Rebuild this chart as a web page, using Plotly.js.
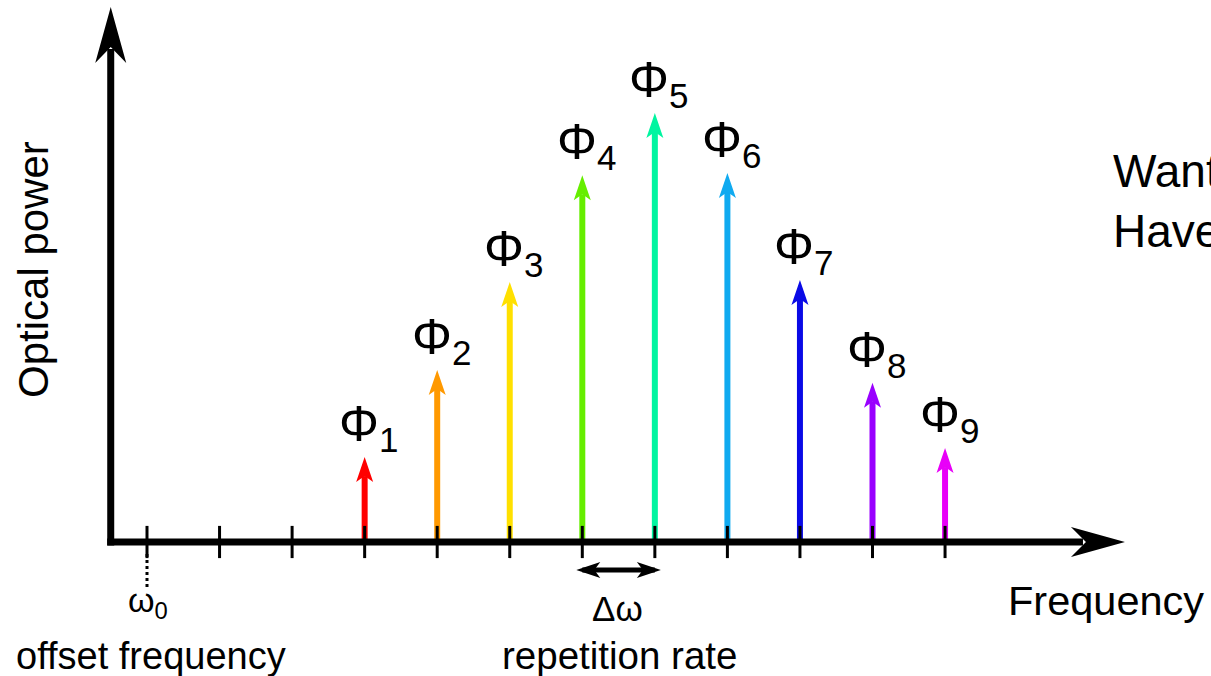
<!DOCTYPE html>
<html>
<head>
<meta charset="utf-8">
<script src="https://cdn.plot.ly/plotly-3.0.1.min.js"></script>
<style>html,body{margin:0;padding:0;background:#fff;}#chart{width:1211px;height:676px;}</style>
</head>
<body>
<div id="chart"></div>
<script>
// ---- data ----
const modeIndex = [3, 4, 5, 6, 7, 8, 9, 10, 11];           // comb line position in units of Δω from ω0
const modeLabels = ['1', '2', '3', '4', '5', '6', '7', '8', '9'];
const opticalPower = [0.198, 0.401, 0.606, 0.855, 1.0, 0.860, 0.611, 0.371, 0.219];
const modeColors = ['#ff0000', '#ff9900', '#ffe000', '#66ee00', '#00f5a0', '#10aaf0', '#0a0ae6', '#9900ff', '#e800f8'];
const tickIndex = [0, 1, 2, 3, 4, 5, 6, 7, 8, 9, 10, 11];
const offsetIndex = 0;
const repetitionPair = [6, 7];
const axisTitles = {x: 'Frequency', y: 'Optical power'};
const sideText = 'Want<br>Have';

// ---- layout constants ----
const W = 1211, H = 676;
const FONT = 'Liberation Sans, Arial, sans-serif';
const xRange = [-2.0262, 14.6658];
const yRange = [-0.31235, 1.26340];
const dx = px => px * (xRange[1] - xRange[0]) / W;
const dy = px => px * (yRange[1] - yRange[0]) / H;
const xp = px => px / W;
const yp = py => 1 - py / H;
const originX = -0.5;            // position of the vertical axis
const xTip = 13.48, yTip = 1.247;

const traces = [];
const shapes = [];
const annotations = [];

// comb lines (shafts) and heads
modeIndex.forEach((k, i) => {
  const p = opticalPower[i];
  traces.push({
    x: [k, k], y: [0, p - dy(19)], mode: 'lines', type: 'scatter',
    line: {color: modeColors[i], width: 6}, hoverinfo: 'skip', showlegend: false
  });
  shapes.push({
    type: 'path', xref: 'x', yref: 'y', xsizemode: 'pixel', ysizemode: 'pixel',
    xanchor: k, yanchor: p, path: 'M0,0 L8.5,-25 L0,-19 L-8.5,-25 Z',
    fillcolor: modeColors[i], line: {width: 0}, layer: 'above'
  });
  annotations.push({
    x: k, y: p, xref: 'x', yref: 'y', showarrow: false,
    xanchor: 'center', yanchor: 'bottom', xshift: 4, yshift: -4,
    text: 'Φ<sub>' + modeLabels[i] + '</sub>',
    font: {family: FONT, size: 50, color: '#000'}
  });
});

// axes
shapes.push({type: 'line', xref: 'x', yref: 'y', x0: originX, x1: originX, y0: -dy(3.5), y1: yTip - dy(42),
  line: {color: '#000', width: 7}});
shapes.push({type: 'path', xref: 'x', yref: 'y', xsizemode: 'pixel', ysizemode: 'pixel',
  xanchor: originX, yanchor: yTip, path: 'M0,0 L15.5,-56 L0,-40 L-15.5,-56 Z',
  fillcolor: '#000', line: {width: 0}});
shapes.push({type: 'line', xref: 'x', yref: 'y', x0: originX - dx(3.5), x1: xTip - dx(42), y0: 0, y1: 0,
  line: {color: '#000', width: 7}});
shapes.push({type: 'path', xref: 'x', yref: 'y', xsizemode: 'pixel', ysizemode: 'pixel',
  xanchor: xTip, yanchor: 0, path: 'M0,0 L-54,15 L-39,0 L-54,-15 Z',
  fillcolor: '#000', line: {width: 0}});

// tick marks
traces.push({
  x: tickIndex, y: tickIndex.map(() => 0), mode: 'markers', type: 'scatter',
  marker: {symbol: 'line-ns-open', size: 23, color: '#000', line: {width: 3, color: '#000'}},
  hoverinfo: 'skip', showlegend: false
});

// dotted line under ω0
shapes.push({type: 'line', xref: 'x', yref: 'y', x0: offsetIndex, x1: offsetIndex, y0: -dy(12), y1: -dy(45),
  line: {color: '#000', width: 3, dash: 'dot'}});

// Δω double arrow
const yD = -dy(28);
shapes.push({type: 'line', xref: 'x', yref: 'y', x0: repetitionPair[0], x1: repetitionPair[1], y0: yD, y1: yD,
  line: {color: '#000', width: 5}});
shapes.push({type: 'path', xref: 'x', yref: 'y', xsizemode: 'pixel', ysizemode: 'pixel',
  xanchor: repetitionPair[0], yanchor: yD, path: 'M-6,0 L18,8 L12,0 L18,-8 Z',
  fillcolor: '#000', line: {width: 0}});
shapes.push({type: 'path', xref: 'x', yref: 'y', xsizemode: 'pixel', ysizemode: 'pixel',
  xanchor: repetitionPair[1], yanchor: yD, path: 'M6,0 L-18,8 L-12,0 L-18,-8 Z',
  fillcolor: '#000', line: {width: 0}});

// text labels
const txt = (text, x, y, size, xa, ya, extra) => Object.assign({
  text: text, x: x, y: y, xref: 'paper', yref: 'paper', showarrow: false,
  xanchor: xa, yanchor: ya, font: {family: FONT, size: size, color: '#000'}
}, extra || {});

annotations.push(Object.assign(txt('ω<sub>0</sub>', 0, yp(602), 34, 'center', 'middle'), {x: offsetIndex, xref: 'x', xshift: 1}));
annotations.push(txt('offset frequency', xp(151), yp(656), 38, 'center', 'middle'));
annotations.push(Object.assign(txt('Δω', 0, yp(608), 35, 'center', 'middle'),
  {x: (repetitionPair[0] + repetitionPair[1]) / 2, xref: 'x', xshift: -1}));
annotations.push(txt('repetition rate', xp(619), yp(655), 38.5, 'center', 'middle'));
annotations.push(txt(axisTitles.x, xp(1006), yp(600), 41.5, 'left', 'middle'));
annotations.push(txt(axisTitles.y, xp(34), yp(270), 42, 'center', 'middle', {textangle: -90}));
annotations.push(txt(sideText, xp(1111), yp(143), 46, 'left', 'top', {align: 'left'}));

const layout = {
  width: W, height: H,
  margin: {l: 0, r: 0, t: 0, b: 0, pad: 0},
  paper_bgcolor: '#fff', plot_bgcolor: '#fff',
  showlegend: false,
  xaxis: {range: xRange, showgrid: false, zeroline: false, showticklabels: false, ticks: '', showline: false, fixedrange: true},
  yaxis: {range: yRange, showgrid: false, zeroline: false, showticklabels: false, ticks: '', showline: false, fixedrange: true},
  shapes: shapes,
  annotations: annotations
};

Plotly.newPlot('chart', traces, layout, {staticPlot: true, displayModeBar: false});
</script>
</body>
</html>
